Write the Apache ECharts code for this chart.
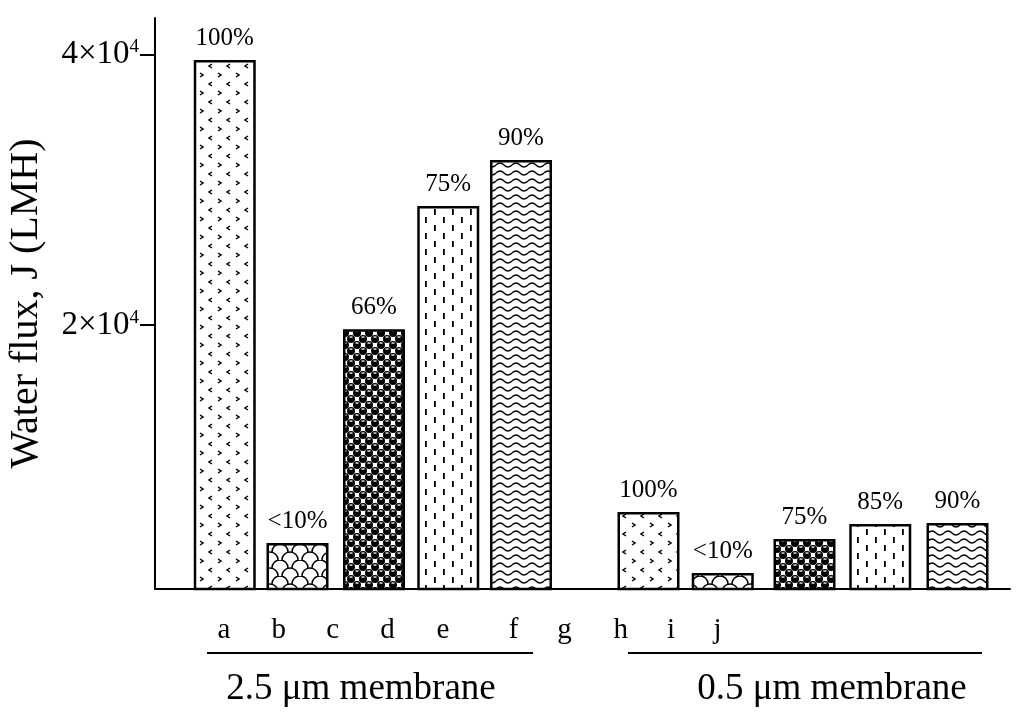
<!DOCTYPE html>
<html>
<head>
<meta charset="utf-8">
<script src="https://cdn.jsdelivr.net/npm/echarts@6/dist/echarts.min.js"></script>
<style>
  html, body { margin: 0; padding: 0; background: #fff; }
  #chart { width: 1024px; height: 714px; }
</style>
</head>
<body>
<div id="chart"></div>
<script>
// bars, left group = 2.5 um membrane, right group = 0.5 um membrane
var barPositions = [1.00, 1.97, 2.99, 3.98, 4.95, 6.65, 7.64, 8.73, 9.74, 10.77];
var fluxValues = [39600, 3900, 19700, 28800, 32200, 6190, 1680, 4200, 5300, 5380];
var retentionLabels = ['100%', '<10%', '66%', '75%', '90%', '100%', '<10%', '75%', '85%', '90%'];
var patternKeys = ['dots', 'scales', 'balls', 'dashes', 'waves', 'dots', 'scales', 'balls', 'dashes', 'waves'];
// the letter row under the axis does not line up with the bars in the original
var letterLabels = ['a', 'b', 'c', 'd', 'e', 'f', 'g', 'h', 'i', 'j'];
var letterPositions = [0.99, 1.72, 2.44, 3.17, 3.91, 4.85, 5.53, 6.28, 6.95, 7.57];
var membraneLabels = ['2.5 \u03bcm membrane', '0.5 \u03bcm membrane'];
var yTicks = [20000, 40000];

var serif = "'Liberation Serif', 'Times New Roman', 'DejaVu Serif', serif";

// fill patterns
function makeTile(w, h, draw) {
  var c = document.createElement('canvas');
  c.width = w; c.height = h;
  var ctx = c.getContext('2d');
  ctx.fillStyle = '#fff';
  ctx.fillRect(0, 0, w, h);
  ctx.strokeStyle = '#000';
  ctx.fillStyle = '#000';
  draw(ctx);
  return { image: c, repeat: 'repeat' };
}

var patterns = {
  dots: makeTile(18, 18, function(ctx) {
    ctx.lineWidth = 1.5;
    ctx.beginPath();
    ctx.moveTo(2, 1); ctx.lineTo(5, 3); ctx.lineTo(2, 5);
    ctx.moveTo(14, 10); ctx.lineTo(11, 12); ctx.lineTo(14, 14);
    ctx.stroke();
  }),
  scales: makeTile(20, 16, function(ctx) {
    ctx.lineWidth = 1.5;
    ctx.beginPath();
    ctx.arc(10, 16, 8, Math.PI, 2 * Math.PI);
    ctx.stroke();
    ctx.beginPath();
    ctx.arc(0, 8, 8, Math.PI, 2 * Math.PI);
    ctx.stroke();
    ctx.beginPath();
    ctx.arc(20, 8, 8, Math.PI, 2 * Math.PI);
    ctx.stroke();
  }),
  balls: makeTile(12, 12, function(ctx) {
    [[3, 3], [9, 9], [-3, 9], [15, 3], [3, 15], [9, -3]].forEach(function(p) {
      ctx.fillStyle = '#000';
      ctx.beginPath();
      ctx.arc(p[0], p[1], 4, 0, 2 * Math.PI);
      ctx.fill();
      ctx.fillStyle = '#fff';
      ctx.fillRect(p[0] - 1.5, p[1] - 2.6, 3, 1.3);
    });
  }),
  dashes: makeTile(18, 16, function(ctx) {
    ctx.fillRect(2, 1, 1.8, 6);
    ctx.fillRect(11, 9, 1.8, 6);
  }),
  waves: makeTile(16, 8, function(ctx) {
    ctx.lineWidth = 1.4;
    ctx.beginPath();
    ctx.moveTo(0, 5);
    ctx.quadraticCurveTo(4, 1, 8, 5);
    ctx.quadraticCurveTo(12, 9, 16, 5);
    ctx.stroke();
  })
};

var barData = [];
for (var i = 0; i < fluxValues.length; i++) {
  barData.push({
    value: [barPositions[i], fluxValues[i]],
    label: { formatter: retentionLabels[i] },
    itemStyle: { color: patterns[patternKeys[i]] }
  });
}

var myChart = echarts.init(document.getElementById('chart'));
var options = {
  animation: false,
  backgroundColor: '#fff',
  grid: { left: 155, right: 14, top: 18, bottom: 125, containLabel: false, outerBoundsMode: 'none' },
  xAxis: [
    {
      type: 'value', min: 0.07, max: 11.47,
      axisLine: { lineStyle: { color: '#000', width: 2 } },
      axisTick: { show: false }, axisLabel: { show: false },
      splitLine: { show: false }
    },
    {
      type: 'value', position: 'bottom', min: 0.07, max: 11.47,
      axisLine: { show: false }, axisTick: { show: false },
      splitLine: { show: false },
      axisLabel: {
        customValues: letterPositions, margin: 27,
        formatter: function(v) {
          var k = 0;
          for (var j = 0; j < letterPositions.length; j++) {
            if (Math.abs(letterPositions[j] - v) < Math.abs(letterPositions[k] - v)) k = j;
          }
          return letterLabels[k];
        },
        color: '#000', fontFamily: serif, fontSize: 29
      }
    }
  ],
  yAxis: {
    type: 'value', min: 500, max: 42700,
    name: 'Water flux, J (LMH)', nameLocation: 'middle', nameGap: 109,
    nameTextStyle: { color: '#000', fontFamily: serif, fontSize: 40 },
    axisLine: { show: true, lineStyle: { color: '#000', width: 2 } },
    axisTick: { show: true, length: 15, customValues: yTicks, lineStyle: { color: '#000', width: 2 } },
    axisLabel: {
      customValues: yTicks, margin: 16,
      formatter: function(v) { return '{b|' + (v / 10000) + '\u00d710}{s|4}'; },
      rich: {
        b: { color: '#000', fontFamily: serif, fontSize: 33 },
        s: { color: '#000', fontFamily: serif, fontSize: 19, padding: [0, 0, 15, 0] }
      }
    },
    splitLine: { show: false }
  },
  series: [{
    type: 'bar',
    xAxisIndex: 0,
    barWidth: 62,
    data: barData,
    itemStyle: { borderColor: '#000', borderWidth: 2.5 },
    label: {
      show: true, position: 'top', distance: 9,
      color: '#000', fontFamily: serif, fontSize: 25
    }
  }],
  graphic: [
    { type: 'line', shape: { x1: 207, y1: 653, x2: 533, y2: 653 }, style: { stroke: '#000', lineWidth: 2 } },
    { type: 'line', shape: { x1: 628, y1: 653, x2: 982, y2: 653 }, style: { stroke: '#000', lineWidth: 2 } },
    { type: 'text', x: 361, y: 689, style: { text: membraneLabels[0], fill: '#000', font: '37px ' + serif, textAlign: 'center', textVerticalAlign: 'middle' } },
    { type: 'text', x: 832, y: 689, style: { text: membraneLabels[1], fill: '#000', font: '37px ' + serif, textAlign: 'center', textVerticalAlign: 'middle' } }
  ]
};
myChart.setOption(options, true);
</script>
</body>
</html>
